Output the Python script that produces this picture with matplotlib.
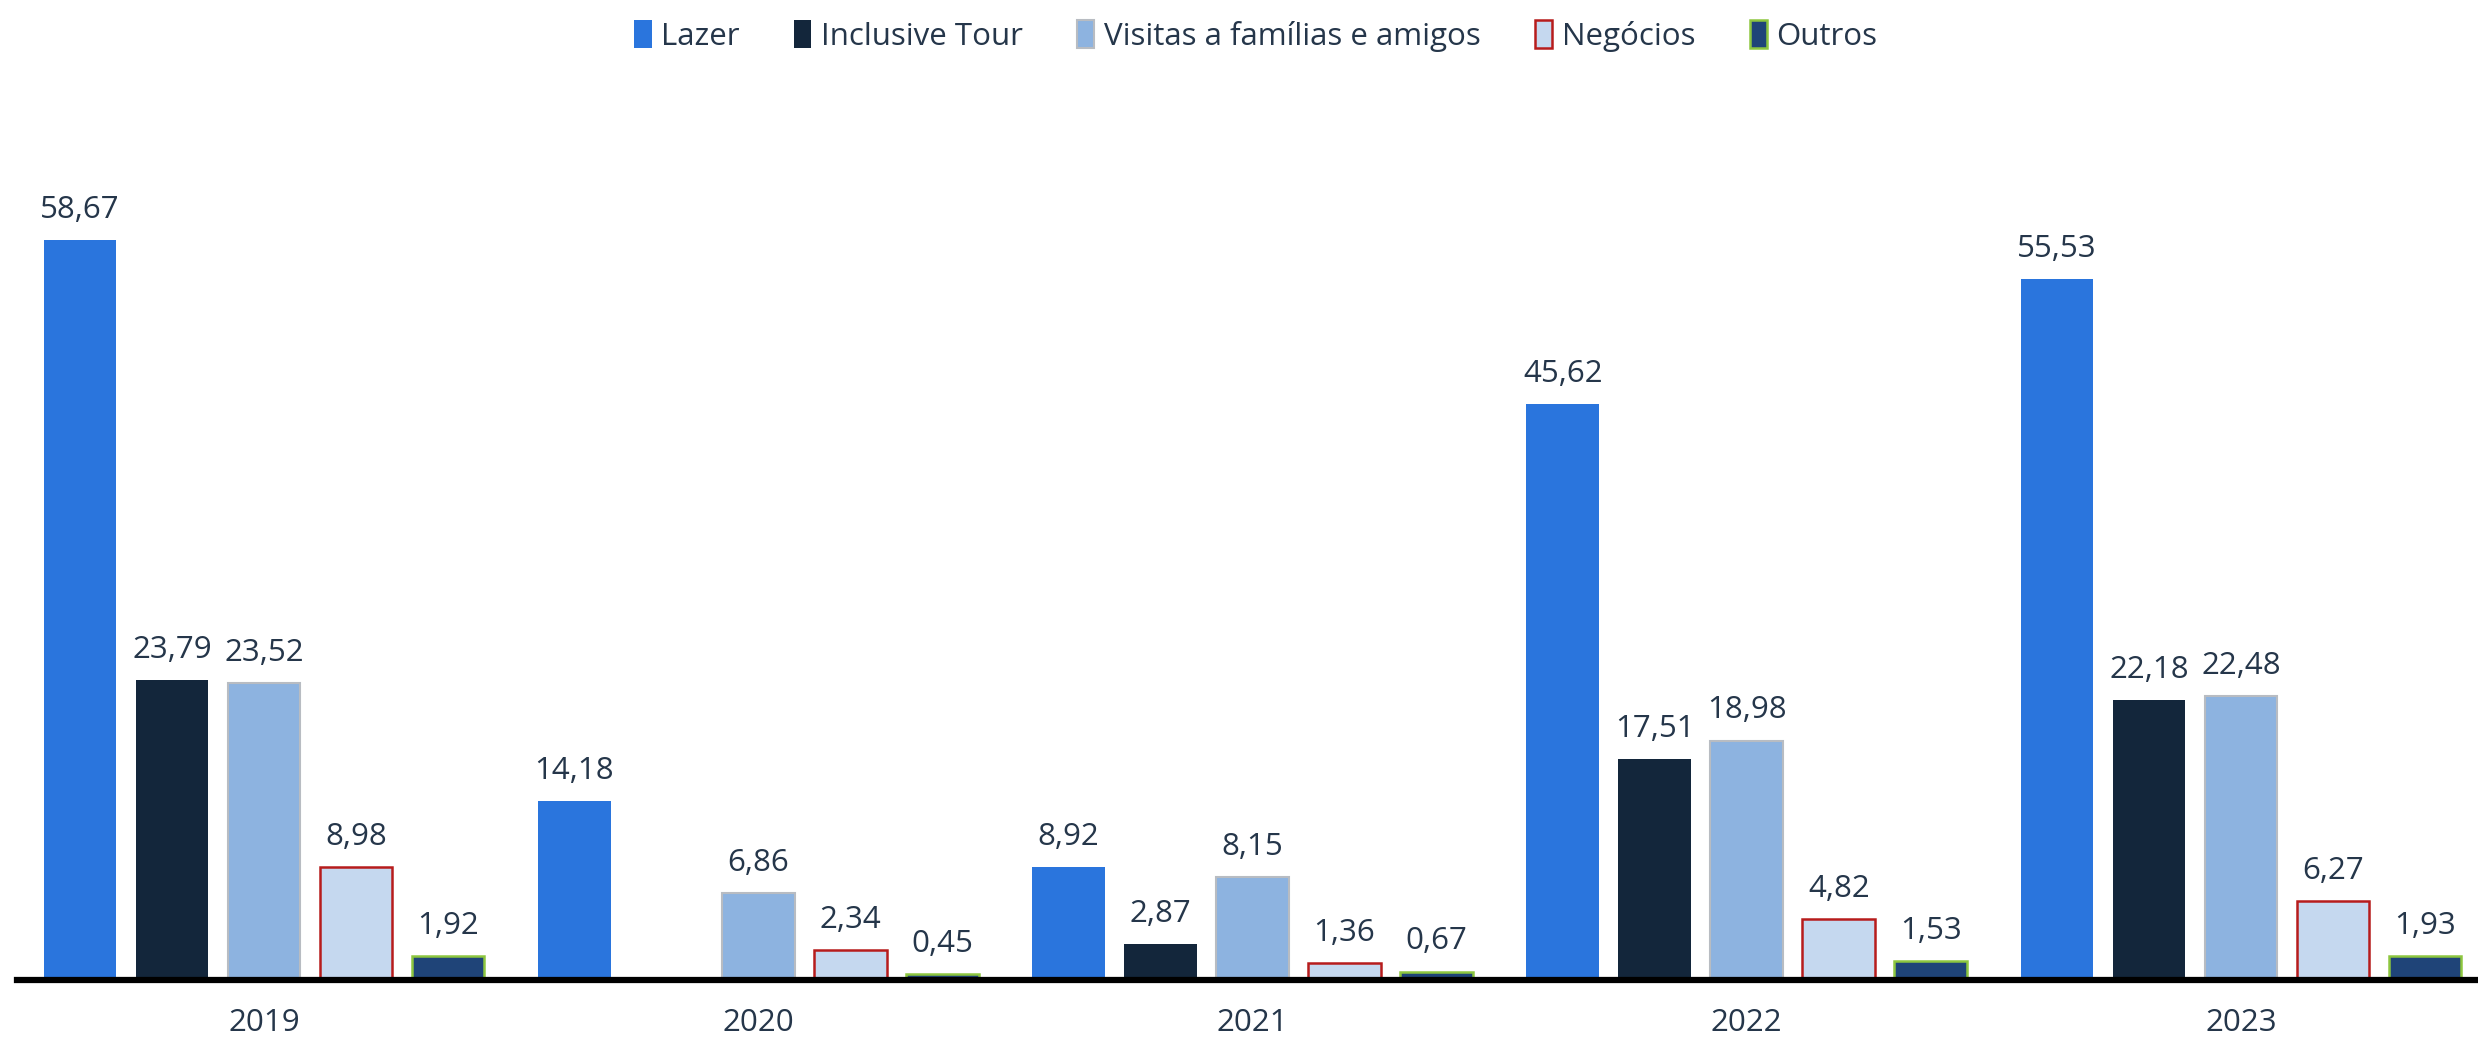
import matplotlib
matplotlib.use("Agg")
import matplotlib.pyplot as plt
import numpy as np
from matplotlib.patches import Patch

years = ["2019", "2020", "2021", "2022", "2023"]
series_names = ["Lazer", "Inclusive Tour", "Visitas a famílias e amigos", "Negócios", "Outros"]
lazer = [58.67, 14.18, 8.92, 45.62, 55.53]
inclusive_tour = [23.79, np.nan, 2.87, 17.51, 22.18]
visitas = [23.52, 6.86, 8.15, 18.98, 22.48]
negocios = [8.98, 2.34, 1.36, 4.82, 6.27]
outros = [1.92, 0.45, 0.67, 1.53, 1.93]

values = [lazer, inclusive_tour, visitas, negocios, outros]
faces = ["#2a75dd", "#13263b", "#8db3e0", "#c5d8ef", "#1f4478"]
edges = ["#2a75dd", "#13263b", "#b8bcc2", "#b71c1c", "#8dc63f"]
lws = [0, 0, 1.5, 1.8, 1.8]

plt.rcParams['font.family'] = ['Open Sans', 'DejaVu Sans']
txt = "#25364a"

fig = plt.figure(figsize=(24.78, 10.43), dpi=100)
ax = fig.add_axes([17/2478, 1 - 980/1043, 1 - 17/2478, 820/1043])

group_pitch = 5.372
width = 0.79
centers = np.arange(len(years)) * group_pitch
for j, (vals, fc, ec, lw) in enumerate(zip(values, faces, edges, lws)):
    xs = centers + (j - 2)
    for x, v in zip(xs, vals):
        if np.isnan(v):
            continue
        ax.bar(x, v, width=width, color=fc, edgecolor=ec, linewidth=lw, zorder=2)
        ax.text(x, v + 1.2, f"{v:.2f}".replace(".", ","), ha="center", va="bottom",
                fontsize=22.5, color=txt)

ax.set_xlim(centers[0] - 2.685, centers[-1] + 2.576)
ax.set_ylim(0, 65)
ax.set_xticks(centers)
ax.set_xticklabels(years, fontsize=22.5, color=txt)
ax.tick_params(axis="x", length=0, pad=20)
ax.set_yticks([])
for s in ["top", "right", "left"]:
    ax.spines[s].set_visible(False)
ax.spines["bottom"].set_linewidth(4.5)
ax.spines["bottom"].set_color("black")
ax.spines["bottom"].set_zorder(3)

handles = [Patch(facecolor=fc, edgecolor=ec, linewidth=max(lw, 1.5) if lw else 0)
           for fc, ec, lw in zip(faces, edges, lws)]
fig.legend(handles, series_names, loc="center", bbox_to_anchor=(1256/2478, 1 - 36/1043),
           ncol=5, frameon=False, fontsize=22.5, handlelength=0.55, handleheight=1.0,
           handletextpad=0.3, columnspacing=1.75, labelcolor=txt)

fig.savefig("out.png", dpi=100)
